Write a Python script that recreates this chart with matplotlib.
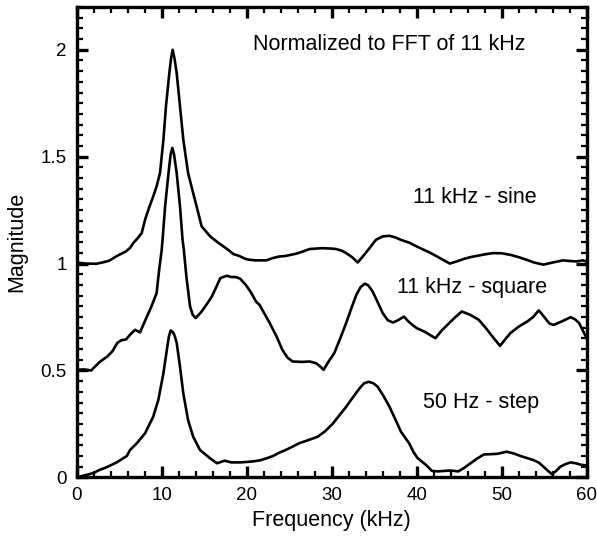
import matplotlib
matplotlib.use("Agg")
import matplotlib.pyplot as plt
from matplotlib.ticker import MultipleLocator

plt.rcParams['font.family'] = ['Liberation Sans', 'DejaVu Sans']

# Frequency (kHz) and normalized magnitude for each excitation
sine_f = [0, 1.0, 2.3, 3.0, 3.8, 4.5, 5.0, 5.8, 6.27, 6.66, 7.2, 7.65, 8.04, 8.5, 9.0, 9.4,
          9.8, 10.2, 10.5, 10.9, 11.1, 11.29, 11.5, 11.76, 12.15, 12.54, 13.1, 13.5, 14.1,
          14.7, 15.7, 16.7, 17.8, 18.4, 19.1, 19.9, 20.3, 21.0, 22.3, 23.0, 23.8, 24.5,
          25.8, 26.5, 27.4, 28.9, 30.0, 30.5, 31.2, 31.7, 32.4, 33.06, 33.8, 34.5, 35.2,
          36.0, 36.8, 37.5, 38.2, 39.1, 40.0, 40.8, 41.6, 42.4, 43.2, 43.9, 44.7, 45.5,
          46.3, 47.1, 48.0, 49.0, 50.0, 51.0, 52.0, 52.9, 53.8, 54.9, 56.0, 57.2, 58.0,
          58.8, 59.5, 60.0]
sine_mag = [1.005, 1.0, 0.999, 1.005, 1.013, 1.03, 1.041, 1.057, 1.073, 1.096, 1.12,
            1.143, 1.205, 1.26, 1.314, 1.361, 1.424, 1.58, 1.736, 1.892, 1.96, 2.0, 1.96,
            1.892, 1.736, 1.58, 1.424, 1.361, 1.268, 1.174, 1.127, 1.096, 1.065, 1.045,
            1.036, 1.021, 1.018, 1.015, 1.015, 1.025, 1.033, 1.035, 1.046, 1.055, 1.068,
            1.072, 1.07, 1.068, 1.06, 1.049, 1.03, 1.005, 1.04, 1.075, 1.111, 1.127, 1.13,
            1.122, 1.11, 1.098, 1.08, 1.065, 1.05, 1.033, 1.015, 1.0, 1.01, 1.021, 1.03,
            1.036, 1.043, 1.049, 1.048, 1.041, 1.03, 1.018, 1.005, 0.995, 1.005, 1.015,
            1.012, 1.01, 1.015, 1.01]

square_f = [0, 0.8, 1.7, 2.2, 2.7, 3.6, 4.2, 4.8, 5.3, 5.8, 6.27, 6.86, 7.45, 8.0, 8.8,
            9.4, 9.7, 10.0, 10.1, 10.4, 10.8, 11.05, 11.25, 11.45, 11.76, 12.15, 12.45,
            12.6, 12.9, 13.33, 13.65, 14.0, 14.7, 15.3, 15.9, 16.9, 17.65, 18.2, 18.7, 19.2,
            19.9, 20.5, 21.1, 21.5, 22.1, 22.7, 23.5, 24.2, 24.8, 25.4, 26.5, 27.4, 28.15,
            28.6, 29.05, 29.6, 30.3, 31.0, 31.7, 32.3, 32.9, 33.4, 33.9, 34.3, 34.8, 35.4,
            36.0, 36.6, 37.2, 37.8, 38.5, 39.0, 39.5, 40.0, 41.0, 41.6, 42.2, 42.9, 43.6,
            44.5, 45.3, 46.3, 47.3, 48.1, 48.9, 49.8, 50.4, 51.0, 52.0, 53.0, 53.7, 54.35,
            54.7, 55.1, 55.6, 56.1, 57.1, 58.1, 58.6, 59.1, 59.5, 60.0]
square_mag = [0.502, 0.505, 0.50, 0.52, 0.54, 0.565, 0.59, 0.63, 0.642, 0.645, 0.667,
              0.69, 0.678, 0.729, 0.80, 0.862, 0.971, 1.065, 1.112, 1.268, 1.424, 1.51,
              1.541, 1.51, 1.424, 1.268, 1.112, 1.065, 0.94, 0.80, 0.76, 0.745, 0.776,
              0.81, 0.846, 0.932, 0.943, 0.937, 0.937, 0.93, 0.90, 0.865, 0.822, 0.807,
              0.765, 0.722, 0.66, 0.596, 0.56, 0.542, 0.54, 0.542, 0.534, 0.52, 0.503,
              0.54, 0.581, 0.65, 0.722, 0.79, 0.854, 0.89, 0.906, 0.898, 0.87, 0.82,
              0.768, 0.735, 0.724, 0.735, 0.752, 0.73, 0.713, 0.698, 0.68, 0.665, 0.651,
              0.685, 0.713, 0.748, 0.776, 0.76, 0.737, 0.70, 0.659, 0.615, 0.645, 0.674,
              0.705, 0.729, 0.75, 0.781, 0.765, 0.745, 0.72, 0.713, 0.73, 0.749, 0.74,
              0.722, 0.69, 0.65]

step_f = [0, 1.0, 1.95, 2.7, 3.5, 4.7, 5.9, 6.27, 7.06, 8.04, 9.0, 9.6, 10.2, 10.6, 10.85,
          11.06, 11.3, 11.5, 11.76, 12.15, 12.54, 13.1, 13.7, 14.5, 15.7, 16.5, 17.4, 18.2,
          19.2, 20.0, 20.8, 21.6, 22.4, 23.1, 23.8, 24.7, 26.2, 27.3, 28.35, 29.2, 30.1,
          30.9, 31.7, 32.5, 33.25, 33.8, 34.35, 34.9, 35.4, 36.1, 36.8, 37.5, 38.15, 39.1,
          39.6, 40.1, 41.1, 41.8, 42.5, 43.2, 43.95, 44.9, 45.6, 46.3, 47.1, 47.9, 49.45,
          50.6, 51.4, 52.2, 53.0, 53.8, 54.4, 54.9, 55.4, 55.9, 56.4, 56.9, 57.5, 58.1,
          58.7, 59.2, 60.0]
step_mag = [0.0, 0.01, 0.02, 0.035, 0.047, 0.07, 0.10, 0.128, 0.159, 0.206, 0.284, 0.362,
            0.487, 0.596, 0.66, 0.687, 0.68, 0.665, 0.63, 0.518, 0.393, 0.268, 0.19,
            0.128, 0.089, 0.066, 0.078, 0.07, 0.07, 0.072, 0.075, 0.08, 0.09, 0.10, 0.115,
            0.13, 0.16, 0.175, 0.19, 0.215, 0.25, 0.29, 0.33, 0.375, 0.415, 0.44, 0.447,
            0.44, 0.424, 0.38, 0.33, 0.27, 0.213, 0.16, 0.12, 0.09, 0.058, 0.03, 0.028,
            0.03, 0.032, 0.028, 0.045, 0.065, 0.088, 0.107, 0.11, 0.12, 0.112, 0.10, 0.09,
            0.08, 0.068, 0.05, 0.032, 0.015, 0.03, 0.05, 0.062, 0.07, 0.066, 0.06, 0.055]

curve_labels = ["11 kHz - sine", "11 kHz - square", "50 Hz - step"]
note_text = "Normalized to FFT of 11 kHz"

fig = plt.figure(figsize=(5.97, 5.4), dpi=100)
ax = fig.add_axes([0.1285, 0.116, 0.8543, 0.871])

for f, m in [(sine_f, sine_mag), (square_f, square_mag), (step_f, step_mag)]:
    ax.plot(f, m, color='black', lw=1.9, solid_joinstyle='round')

ax.set_xlim(0, 60)
ax.set_ylim(0, 2.2)
ax.xaxis.set_major_locator(MultipleLocator(10))
ax.xaxis.set_minor_locator(MultipleLocator(2))
ax.yaxis.set_minor_locator(MultipleLocator(0.05))
ax.set_yticks([0, 0.5, 1, 1.5, 2])
ax.set_yticklabels(['0', '0.5', '1', '1.5', '2'])

for s in ax.spines.values():
    s.set_linewidth(2.4)
ax.tick_params(which='both', direction='in', top=True, right=True, labelsize=13.5)
ax.tick_params(which='major', length=8, width=2.4, pad=7)
ax.tick_params(which='minor', length=4, width=1.6)

ax.set_xlabel("Frequency (kHz)", fontsize=15.5, labelpad=4)
ax.set_ylabel("Magnitude", fontsize=15.5, labelpad=10)

ax.text(20.7, 2.025, note_text, fontsize=15.5, va='center', ha='left')
ax.text(39.6, 1.31, curve_labels[0], fontsize=15.5, va='center', ha='left')
ax.text(37.7, 0.886, curve_labels[1], fontsize=15.5, va='center', ha='left')
ax.text(40.7, 0.35, curve_labels[2], fontsize=15.5, va='center', ha='left')

fig.savefig("out.png", dpi=100)
